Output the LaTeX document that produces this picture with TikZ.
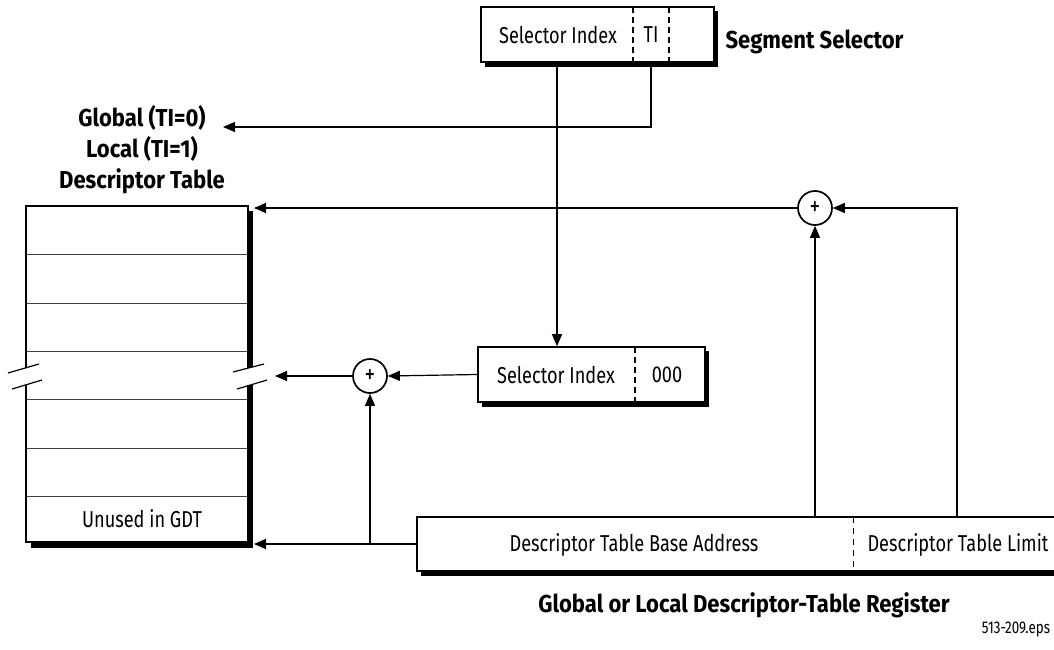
\documentclass[tikz,border=0pt]{standalone}
\usepackage{fontspec}
\setmainfont{Fira Sans}[FakeStretch=0.79]
\newfontfamily\boldfam{Fira Sans}[FakeStretch=0.9]
\usetikzlibrary{arrows.meta}
\begin{document}
\begin{tikzpicture}[x=1pt,y=-1pt,
  conn/.style={line width=1.2pt},
  arr/.style={conn,-{Triangle[length=12pt,width=10pt]}},
  boxs/.style={draw,line width=1.6pt,fill=white,inner sep=0pt},
  psum/.style={circle,draw,line width=1.7pt,fill=white,minimum size=34pt,inner sep=0pt,font=\fontsize{27}{27}\selectfont},
  lbl/.style={font=\fontsize{23}{27}\selectfont},
  blbl/.style={font=\boldfam\fontsize{24.5}{31}\selectfont\bfseries},
  dsh/.style={line width=1.8pt,dash pattern=on 6pt off 4pt},
  tdsh/.style={line width=0.9pt,dash pattern=on 6pt off 5pt},
  row/.style={line width=1pt,black!75}
]
\useasboundingbox (0,0) rectangle (1054,650);
\clip (0,0) rectangle (1054,650);

% ---- top segment selector
\fill (485,11) rectangle (718,67);
\node[boxs,minimum width=233pt,minimum height=55pt] (ss) at (597.5,34.5) {};
\draw[dsh] (633,7) -- (633,62);
\draw[dsh] (669,7) -- (669,62);
\node[lbl] (ssi) at (558,35) {Selector Index};
\node[lbl] (sti) at (651,35) {TI};
\node[blbl,anchor=west] (ssl) at (722,42) {Segment Selector};

% ---- left labels
\node[blbl,align=center] (gl) at (142,150) {Global (TI=0)\\Local (TI=1)\\Descriptor Table};

% ---- descriptor table
\fill (31,211) rectangle (253,548);
\draw[fill=white,line width=1.6pt] (26,206) rectangle (248,542);
\foreach \yy in {254,303,351,399,448,496} \draw[row] (27,\yy) -- (247,\yy);
\fill[white] (8,373) -- (39,364) -- (42,380) -- (12,389) -- cycle;
\fill[white] (233,372) -- (264,364) -- (267,380) -- (237,389) -- cycle;
\draw[conn] (8,373) -- (39,364);
\draw[conn] (12,389) -- (42,380);
\draw[conn] (233,372) -- (264,364);
\draw[conn] (237,389) -- (267,380);
\node[lbl] (unused) at (142,519) {Unused in GDT};
\coordinate (tTop) at (254,208);
\coordinate (tMid) at (275,376);
\coordinate (tBot) at (254,544);
\coordinate (glarrow) at (223,127);

% ---- middle selector
\fill (482,351) rectangle (709,407);
\node[boxs,minimum width=227pt,minimum height=55pt] (ms) at (591.5,374.5) {};
\draw[dsh] (635,347) -- (635,402);
\node[lbl] (msi) at (556,375) {Selector Index};
\node[lbl] (mz) at (667,375) {000};

% ---- register
\fill (421,521) rectangle (1080,576);
\node[boxs,minimum width=658pt,minimum height=54pt] (reg) at (746,544) {};
\draw[tdsh] (853,517) -- (853,571);
\node[lbl] (rb) at (634,545) {Descriptor Table Base Address};
\node[lbl] (rl) at (958,545) {Descriptor Table Limit};
\node[blbl] (rlab) at (744,605) {Global or Local Descriptor-Table Register};
\node[font=\fontsize{17}{19}\selectfont] (eps) at (1016,630) {513-209.eps};

% ---- adders
\node[psum] (p1) at (815,208) {+};
\node[psum] (p2) at (370,376) {+};

\coordinate (cSel) at (557,0);
\coordinate (cTI) at (651,0);
\coordinate (cP2) at (370,0);
\coordinate (cP1) at (815,0);
\coordinate (cLim) at (957,0);

% ---- connectors
\draw[arr] (ss.south -| cTI) |- (glarrow);
\draw[arr] (ss.south -| cSel) -- (ms.north -| cSel);
\draw[arr] (ms.west) -- (p2.east);
\draw[arr] (p2.west) -- (tMid);
\draw[arr] (reg.west) -- (tBot);
\draw[arr] (reg.west -| cP2) -- (p2.south);
\draw[arr] (reg.north -| cP1) -- (p1.south);
\draw[arr] (reg.north -| cLim) |- (p1.east);
\draw[arr] (p1.west) -- (tTop);
\end{tikzpicture}
\end{document}
